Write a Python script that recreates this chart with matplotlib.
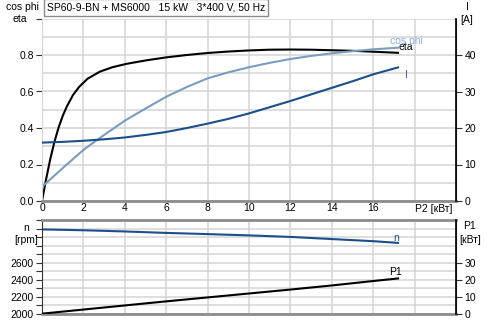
import numpy as np
import matplotlib
matplotlib.use("Agg")
import matplotlib.pyplot as plt

plt.rcParams["font.family"] = ["Liberation Sans", "DejaVu Sans"]
plt.rcParams["font.size"] = 7.5

TITLE = "SP60-9-BN + MS6000   15 kW   3*400 V, 50 Hz"

# eta vs P2 [kW]
eta_p2 = [0, 0.2, 0.4, 0.6, 0.8, 1.0, 1.2, 1.5, 1.8, 2.2, 2.8, 3.4, 4.1, 5, 6, 7, 8, 9, 10,
          11, 12, 13, 14, 15, 16, 17.2]
eta = [0, 0.12, 0.23, 0.324, 0.402, 0.466, 0.518, 0.581, 0.626, 0.67, 0.709, 0.733, 0.752,
       0.77, 0.787, 0.80, 0.811, 0.819, 0.825, 0.829, 0.830, 0.829, 0.826, 0.823, 0.818, 0.812]

# cos phi vs P2
cos_p2 = [0, 1, 2, 3, 4, 4.9, 6, 7, 8, 9, 10, 11, 12, 13, 14, 15, 16, 17.2]
cos_phi = [0.078, 0.18, 0.28, 0.362, 0.44, 0.50, 0.571, 0.625, 0.672, 0.705, 0.733, 0.757, 0.778,
           0.795, 0.809, 0.821, 0.831, 0.84]

# current [A] vs P2
i_p2 = [0, 1, 2, 3, 4, 5, 6, 7, 8, 9, 10, 11, 12, 13, 14, 15, 16, 17.2]
current = [16.0, 16.2, 16.5, 16.9, 17.4, 18.1, 18.9, 20.0, 21.2, 22.5, 24.0, 25.7, 27.4, 29.2,
           31.0, 32.8, 34.7, 36.6]

# speed [rpm] and P1 [kW] vs P2
low_p2 = [0, 2, 4, 6, 8, 10, 12, 14, 16, 17.2]
speed = [2990, 2980, 2966, 2949, 2935, 2920, 2902, 2877, 2852, 2832]
p1 = [0.2, 2.6, 5.0, 7.4, 9.7, 12.0, 14.3, 16.7, 19.3, 20.8]

C_ETA = "#000000"
C_COS = "#7a9cc0"
C_I = "#1b4f8a"
GRID = "#d4d4d4"

fig = plt.figure(figsize=(4.88, 3.23), dpi=100)
W, H = 488, 323


def box(l, t, r, b):
    return [l / W, (H - b) / H, (r - l) / W, (b - t) / H]


ax = fig.add_axes(box(42, 18.5, 456, 201))
ax_r = ax.twinx()
bx = fig.add_axes(box(42, 220, 456, 314))
bx_r = bx.twinx()

for a in (ax, bx):
    a.set_xlim(0, 20)
    a.set_xticks(np.arange(0, 20, 2))
    a.grid(True, which="both", color=GRID, lw=1.1)
    a.set_axisbelow(True)
    a.spines["top"].set_visible(False)

# --- top chart
ax.plot(eta_p2, eta, color=C_ETA, lw=1.5)
ax.plot(cos_p2, cos_phi, color=C_COS, lw=1.5)
ax.set_ylim(0, 1.0)
ax.set_yticks(np.arange(0, 1.01, 0.2))
ax.set_yticklabels(["0.0", "0.2", "0.4", "0.6", "0.8", ""])
ax.set_yticks(np.arange(0.1, 1.0, 0.2), minor=True)
ax.tick_params(axis="y", which="minor", length=0)
ax.tick_params(axis="y", which="major", length=4, color="#333333", pad=2)
ax.set_xticklabels(["0", "2", "4", "6", "8", "10", "12", "14", "16", ""])
ax.tick_params(axis="x", length=0, pad=1.5)
ax.text(18, -0.015, "P2 [кВт]", ha="left", va="top", fontsize=7.5)
ax.spines["left"].set_color(GRID)
ax.spines["bottom"].set_color("#8c8c8c")
ax.spines["bottom"].set_linewidth(2)

ax_r.plot(i_p2, current, color=C_I, lw=1.5)
ax_r.set_ylim(0, 50)
ax_r.set_yticks([0, 10, 20, 30, 40])
ax_r.tick_params(axis="y", length=4, color="#333333", pad=2)
for s in ("top", "left", "bottom"):
    ax_r.spines[s].set_visible(False)
ax_r.spines["right"].set_color("#111111")
ax_r.spines["right"].set_linewidth(1.3)

ax.text(17.2, 0.827, "eta", color=C_ETA, ha="left", va="baseline", fontsize=7.5)
ax.text(16.8, 0.862, "cos phi", color="#8fb0d8", ha="left", va="baseline", fontsize=7.5)
ax_r.text(17.6, 34.5, "I", color="#5050b8", ha="center", va="center", fontsize=7.5)

fig.text(22 / W, 1 - 6.5 / H, "cos phi", ha="center", va="center", fontsize=7.5)
fig.text(20 / W, 1 - 19 / H, "eta", ha="center", va="center", fontsize=7.5)
fig.text(467 / W, 1 - 7 / H, "I", ha="center", va="center", fontsize=7.5)
fig.text(467 / W, 1 - 20 / H, "[A]", ha="center", va="center", fontsize=7.5)

fig.text(47 / W, 1 - 7.5 / H, TITLE, ha="left", va="center", fontsize=7.5,
         bbox=dict(boxstyle="square,pad=0.3", fc="white", ec="#8c8c8c", lw=1))

# --- bottom chart
bx.plot(low_p2, speed, color=C_I, lw=1.5)
bx.set_ylim(2000, 3100)
bx.set_yticks(np.arange(2000, 3101, 100))
bx.set_yticklabels(["2000", "", "2200", "", "2400", "", "2600", "", "", "", "", ""])
bx.tick_params(axis="y", length=4, color="#333333", pad=2)
bx.tick_params(axis="x", length=0, labelbottom=False)
bx.spines["left"].set_color("#333333")
bx.spines["bottom"].set_color("#8c8c8c")
bx.spines["bottom"].set_linewidth(2)
bx.spines["top"].set_visible(True)
bx.spines["top"].set_color("#8c8c8c")
bx.spines["top"].set_linewidth(2)

bx_r.plot(low_p2, p1, color=C_ETA, lw=1.5)
bx_r.set_ylim(0, 55)
bx_r.set_yticks([0, 10, 20, 30])
bx_r.tick_params(axis="y", length=4, color="#333333", pad=2)
for s in ("top", "left", "bottom"):
    bx_r.spines[s].set_visible(False)
bx_r.spines["right"].set_color("#111111")
bx_r.spines["right"].set_linewidth(1.3)

bx.text(17.1, 2855, "n", color=C_I, ha="center", va="baseline", fontsize=7.5)
bx_r.text(17.1, 22.7, "P1", color=C_ETA, ha="center", va="baseline", fontsize=7.5)

fig.text(26 / W, 1 - 228 / H, "n", ha="center", va="center", fontsize=7.5)
fig.text(26 / W, 1 - 240 / H, "[rpm]", ha="center", va="center", fontsize=7.5)
fig.text(470 / W, 1 - 226 / H, "P1", ha="center", va="center", fontsize=7.5)
fig.text(470 / W, 1 - 240 / H, "[кВт]", ha="center", va="center", fontsize=7.5)

fig.savefig("out.png", dpi=100)
plt.close(fig)
